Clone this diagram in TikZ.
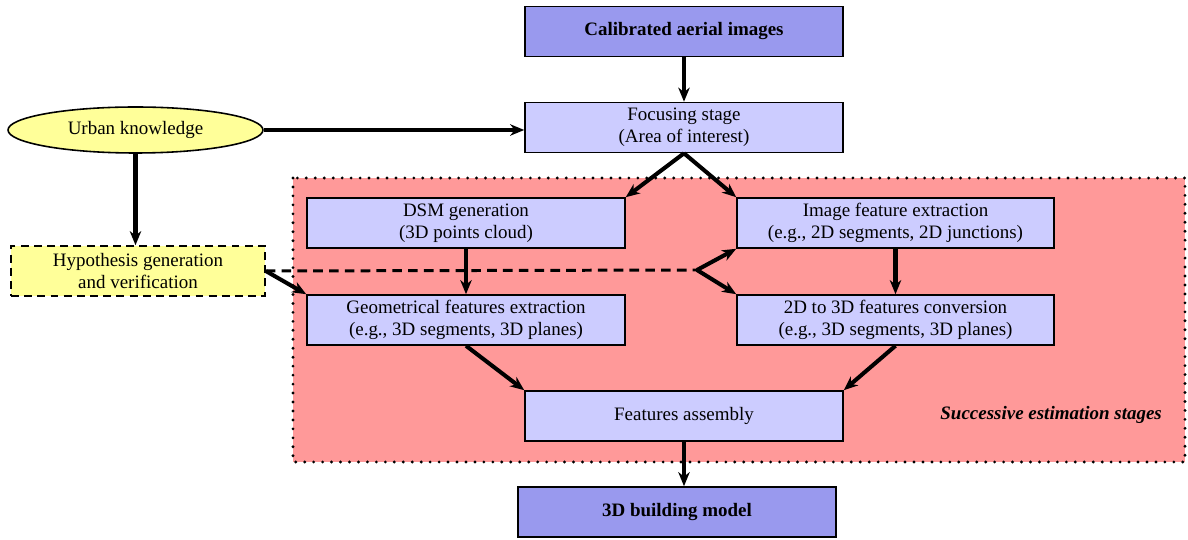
\documentclass[tikz,border=0pt]{standalone}
\usepackage{fontspec}
\setmainfont{Liberation Serif}
\usetikzlibrary{arrows.meta,shapes.geometric}
\definecolor{darkbox}{RGB}{153,153,238}
\definecolor{lightbox}{RGB}{204,204,255}
\definecolor{regionred}{RGB}{255,153,153}
\definecolor{yel}{RGB}{255,255,153}
\begin{document}
\begin{tikzpicture}[x=0.02cm,y=-0.02cm,
  txt/.style={font=\fontsize{10.8}{12.3}\selectfont},
  box/.style={txt,draw,line width=0.9pt,fill=lightbox,minimum width=6.36cm,minimum height=1.0cm,inner sep=0pt,align=center},
  darkbx/.style={box,fill=darkbox,font=\fontsize{10.8}{12.3}\selectfont\bfseries},
  arr/.style={line width=2.3pt,-{Stealth[length=8pt,width=6.5pt,inset=2.5pt]}},
  dashline/.style={line width=1.7pt,dash pattern=on 5.5pt off 3.5pt},
]
\useasboundingbox (0,0) rectangle (1188,540);
% region
\draw[fill=regionred,line width=1.8pt,dash pattern=on 0pt off 5.1pt,line cap=round] (293,178) rectangle (1185,462);
\node[txt,font=\fontsize{10.8}{12.3}\selectfont\bfseries\itshape,anchor=east] (lbl) at (1168,415) {Successive estimation stages};

\node[darkbx] (cal) at (684,31.5) {Calibrated aerial images};
\node[box] (foc) at (684,127.5) {Focusing stage\\(Area of interest)};
\node[txt,ellipse,draw,line width=0.9pt,fill=yel,minimum width=5.1cm,minimum height=0.92cm,inner sep=0pt] (urban) at (135.5,130) {Urban knowledge};
\node[txt,draw,fill=yel,line width=0.9pt,dash pattern=on 4.5pt off 3pt,minimum width=5.08cm,minimum height=1.0cm,inner sep=0pt,align=center] (hyp) at (138,271) {Hypothesis generation\\and verification};
\node[box] (dsm) at (466,223) {DSM generation\\(3D points cloud)};
\node[box,minimum width=6.34cm] (img) at (895.5,223) {Image feature extraction\\(e.g., 2D segments, 2D junctions)};
\node[box] (geo) at (466,320) {Geometrical features extraction\\(e.g., 3D segments, 3D planes)};
\node[box,minimum width=6.34cm] (conv) at (895.5,320) {2D to 3D features conversion\\(e.g., 3D segments, 3D planes)};
\node[box] (asm) at (684,416) {Features assembly};
\node[darkbx] (model) at (677,512) {3D building model};

\coordinate (split) at (697,270);

\draw[arr] (cal) -- (foc);
\draw[arr] (urban.east) -- (foc.west |- urban.east);
\draw[arr] (urban.south) -- (urban.south |- hyp.north);
\draw[arr] (foc.south) -- (dsm.north east);
\draw[arr] (foc.south) -- (img.north west);
\draw[arr] (dsm) -- (geo);
\draw[arr] (img) -- (conv);
\draw[dashline] (hyp.east) -- (split);
\draw[arr] (hyp.east) -- (geo.north west);
\draw[arr] (split) -- (img.south west);
\draw[arr] (split) -- (conv.north west);
\draw[arr] (geo.south) -- (asm.north west);
\draw[arr] (conv.south) -- (asm.north east);
\draw[arr] (asm.south) -- (asm.south |- model.north);
\end{tikzpicture}
\end{document}
